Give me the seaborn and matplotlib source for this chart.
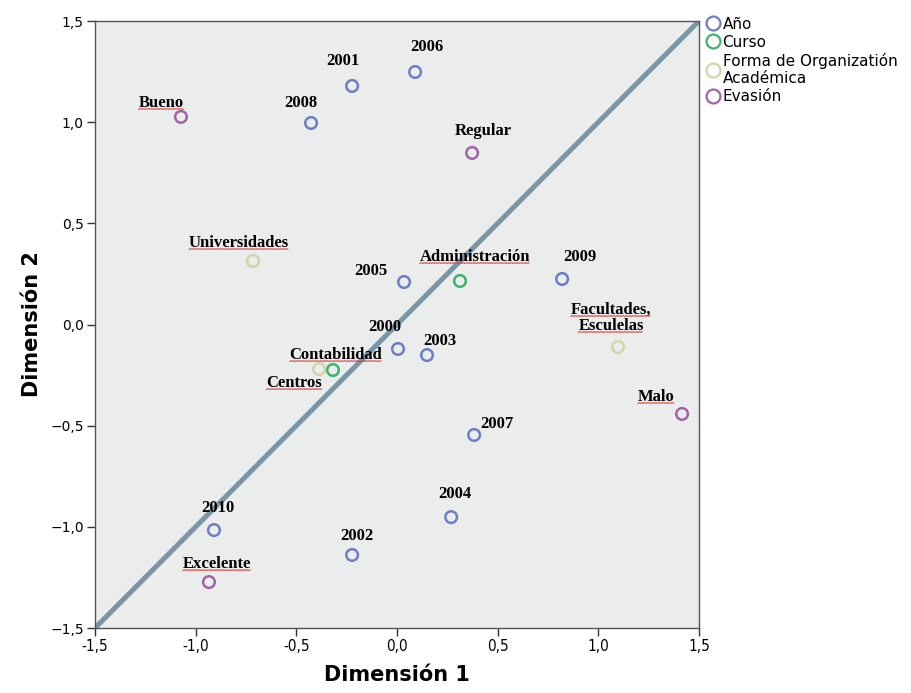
import numpy as np
import pandas as pd
import seaborn as sns
import matplotlib.pyplot as plt
from matplotlib.lines import Line2D

# Category points for the joint-category plot
labels = ["2000", "2001", "2002", "2003", "2004", "2005", "2006", "2007", "2008", "2009", "2010",
          "Administración", "Contabilidad",
          "Universidades", "Facultades,\nEsculelas", "Centros",
          "Excelente", "Bueno", "Regular", "Malo"]
groups = (["Año"] * 11 + ["Curso"] * 2 +
          ["Forma de Organizatión\nAcadémica"] * 3 + ["Evasión"] * 4)
dim1 = [0.005, -0.223, -0.223, 0.149, 0.269, 0.035, 0.090, 0.383, -0.427, 0.820, -0.909,
        0.313, -0.318,
        -0.715, 1.098, -0.387,
        -0.934, -1.073, 0.373, 1.416]
dim2 = [-0.121, 1.179, -1.139, -0.151, -0.952, 0.210, 1.248, -0.546, 0.996, 0.225, -1.016,
        0.215, -0.225,
        0.314, -0.111, -0.220,
        -1.273, 1.026, 0.848, -0.442]

group_order = ["Año", "Curso", "Forma de Organizatión\nAcadémica", "Evasión"]
group_colors = ["#6c7fc6", "#3db36b", "#d6d3a6", "#a262a9"]

# Label offsets in pixels (dx, dy upward) relative to each point
label_offsets = {
    "2000": (-13, 22), "2001": (-9, 25), "2002": (5, 19), "2003": (13, 14),
    "2004": (4, 23), "2005": (-33, 11), "2006": (12, 25), "2007": (23, 11),
    "2008": (-10, 20), "2009": (18, 22), "2010": (4, 22),
    "Administración": (15, 24), "Contabilidad": (3, 15),
    "Universidades": (-14, 18), "Facultades,\nEsculelas": (-7, 29), "Centros": (-25, -14),
    "Excelente": (8, 18), "Bueno": (-20, 14), "Regular": (11, 22), "Malo": (-26, 17),
}
underlined = {"Administración", "Contabilidad", "Universidades", "Facultades,\nEsculelas",
              "Centros", "Excelente", "Bueno", "Malo"}

df = pd.DataFrame({"label": labels, "grupo": groups, "d1": dim1, "d2": dim2})

sns.set_theme(style="white")
plt.rcParams["font.family"] = ["DejaVu Sans"]
plt.rcParams["text.color"] = "black"
plt.rcParams["axes.labelcolor"] = "black"
plt.rcParams["xtick.color"] = "black"
plt.rcParams["ytick.color"] = "black"

fig = plt.figure(figsize=(9.11, 6.93), dpi=100)
ax = fig.add_axes([95 / 911, 1 - 628 / 693, 604 / 911, 607 / 693])
ax.set_facecolor("#ebecec")

ax.plot([-1.5, 1.5], [-1.5, 1.5], color="#7896a6", lw=3.6, zorder=1, solid_capstyle="butt")

palette = dict(zip(group_order, group_colors))
sns.scatterplot(data=df, x="d1", y="d2", hue="grupo", hue_order=group_order,
                palette=palette, s=70, linewidth=1.8, legend=False, ax=ax, zorder=3)
for coll in ax.collections:
    fc = coll.get_facecolors()
    coll.set_edgecolors(fc)
    coll.set_facecolors("none")

serif = "Liberation Serif"
texts = []
for lab, x, y in zip(labels, dim1, dim2):
    dx, dy = label_offsets[lab]
    t = ax.annotate(lab, (x, y), xytext=(dx, dy), textcoords="offset pixels",
                    ha="center", va="center", fontsize=12, fontweight="bold",
                    family=serif, color="black", zorder=4, linespacing=1.0)
    texts.append((lab, t))

ax.set_xlim(-1.5, 1.5)
ax.set_ylim(-1.5, 1.5)
ticks = [-1.5, -1.0, -0.5, 0.0, 0.5, 1.0, 1.5]
ax.set_xticks(ticks)
ax.set_xticklabels(["-1,5", "-1,0", "-0,5", "0,0", "0,5", "1,0", "1,5"],
                   family="DejaVu Sans", fontstretch="condensed", fontsize=11)
ax.set_yticks(ticks)
ax.set_yticklabels(["−1,5", "−1,0", "−0,5", "0,0", "0,5", "1,0", "1,5"], fontsize=10)
ax.tick_params(axis="both", direction="out", length=6, width=1, color="#333333",
               bottom=True, left=True, pad=2)
for sp in ax.spines.values():
    sp.set_color("#555555")
    sp.set_linewidth(1.0)

ax.set_xlabel("Dimensión 1", fontsize=15, fontweight="bold", labelpad=8)
ax.set_ylabel("Dimensión 2", fontsize=15, fontweight="bold", labelpad=6)

handles = [Line2D([], [], marker="o", linestyle="none", markersize=10,
                  markerfacecolor="none", markeredgecolor=c, markeredgewidth=1.6)
           for c in group_colors]
leg = fig.legend(handles, group_order, loc="upper left", bbox_to_anchor=(0.768, 0.985),
                 frameon=False, fontsize=11, handletextpad=0.1, handlelength=1.0,
                 labelspacing=0.2, borderaxespad=0)

# Red wavy spell-check underline beneath word labels
fig.canvas.draw()
renderer = fig.canvas.get_renderer()
for lab, t in texts:
    if lab not in underlined:
        continue
    bb = t.get_window_extent(renderer)
    lines = lab.split("\n")
    nlines = len(lines)
    line_h = bb.height / nlines
    for i, ln in enumerate(lines):
        frac = len(ln) / max(len(l) for l in lines)
        w = bb.width * frac
        x0 = bb.x0 + (bb.width - w) / 2
        ybase = bb.y1 - line_h * (i + 1) + 1.5
        xs = np.arange(x0, x0 + w, 1.5)
        ys = ybase + np.where(np.arange(len(xs)) % 2 == 0, 0.0, 0.9)
        fig.add_artist(Line2D(xs / fig.bbox.width, ys / fig.bbox.height,
                              color="#e0393a", lw=0.7, transform=fig.transFigure,
                              zorder=5))

fig.savefig("out.png", dpi=100, facecolor="white")
